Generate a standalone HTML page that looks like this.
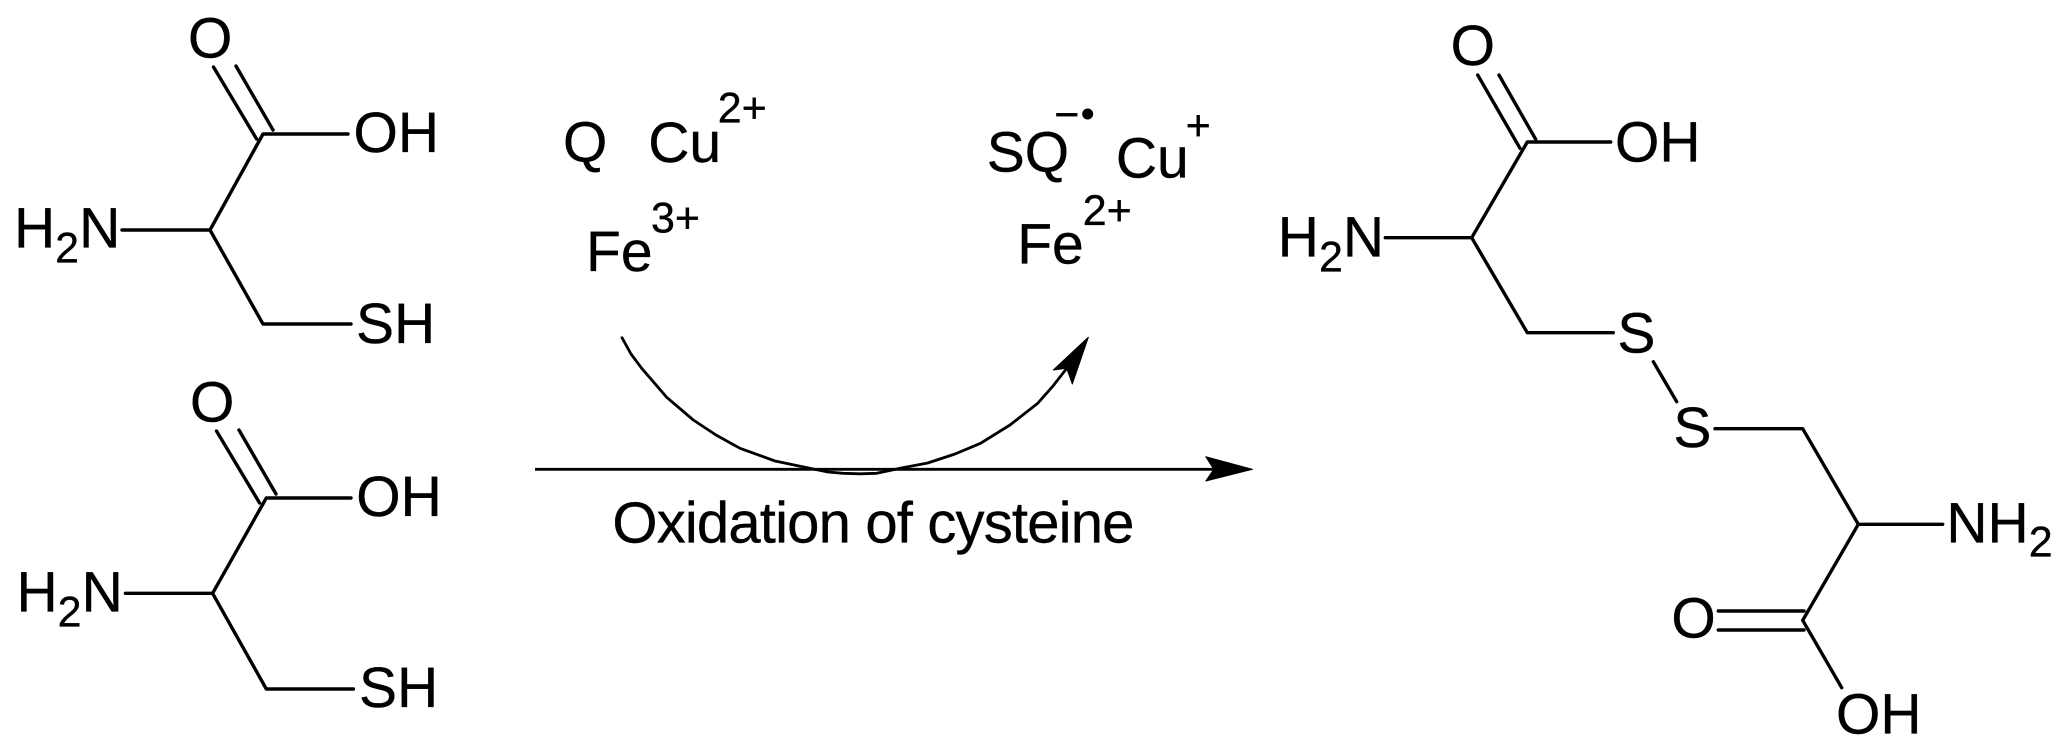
<!DOCTYPE html>
<html>
<head>
<meta charset="utf-8">
<style>
html,body{margin:0;padding:0;background:#fff;}
svg{display:block;}
text{font-family:"Liberation Sans",sans-serif;font-size:57px;fill:#000;stroke:#000;stroke-width:.35;text-rendering:geometricPrecision;}
.s{font-size:43px;}
.b{stroke:#000;stroke-width:3.4;fill:none;stroke-linecap:round;stroke-linejoin:round;}
</style>
</head>
<body>
<svg width="2067" height="752" viewBox="0 0 2067 752" xmlns="http://www.w3.org/2000/svg">
<rect width="2067" height="752" fill="#fff"/>

<!-- Molecule 1 -->
<g class="b">
<path d="M122 230H210L263 134H348"/>
<path d="M210 230L263 324H351"/>
<path d="M213.5 67L256.6 139"/>
<path d="M236 66L273 130"/>
</g>
<text x="188" y="57.5">O</text>
<text x="353.5" y="152">OH</text>
<text x="14" y="247.7">H<tspan class="s" dy="15">2</tspan><tspan dy="-15">N</tspan></text>
<text x="356" y="343">SH</text>

<!-- Molecule 2 -->
<g class="b">
<path d="M125.4 593.3H212.6L266.3 498H351"/>
<path d="M212.6 593.3L266.3 689H353.4"/>
<path d="M216.5 431L259.6 503"/>
<path d="M239 430L276 494"/>
</g>
<text x="190" y="421.5">O</text>
<text x="356.3" y="516">OH</text>
<text x="16.5" y="611.7">H<tspan class="s" dy="15">2</tspan><tspan dy="-15">N</tspan></text>
<text x="359" y="707">SH</text>

<!-- Reaction arrow -->
<path d="M535 469.3H1215" stroke="#000" stroke-width="2.8" fill="none"/>
<path d="M1252.5 469.3L1205.8 456.7L1213.8 469.3L1205.8 481Z" fill="#000" stroke="#000" stroke-width="1" stroke-linejoin="round"/>
<text x="612.4" y="542.7" style="font-size:58px" textLength="522" lengthAdjust="spacing">Oxidation of cysteine</text>

<!-- Curved arrow -->
<polyline points="622,337.7 631,354 641.7,368.3 666.7,397.3 693.3,420 716,435 740,448.3 775,461 813.3,469 828,472 843.3,473.3 860,473.8 876.7,473.3 900,468.3 927.7,463 955,454 980.5,443.3 1010,425 1037.7,403.3 1053,386 1067,368" fill="none" stroke="#000" stroke-width="2.8" stroke-linecap="round" stroke-linejoin="round"/>
<path d="M1088.3 337.3L1053.3 370L1066.7 368.3L1072.3 384Z" fill="#000" stroke="#000" stroke-width="1" stroke-linejoin="round"/>

<!-- Reagents left -->
<text x="563" y="161.7">Q</text>
<text x="648.2" y="162">Cu</text>
<text class="s" x="717.7" y="122.7">2+</text>
<text x="586" y="271">Fe</text>
<text class="s" x="651" y="232.7">3+</text>

<!-- Reagents right -->
<text x="986.7" y="171.7">SQ</text>
<text class="s" x="1054.3" y="129">−</text>
<circle cx="1087.7" cy="114" r="5.5" fill="#000"/>
<text x="1115.9" y="177.3">Cu</text>
<text class="s" x="1185.6" y="140">+</text>
<text x="1017.2" y="263.3">Fe</text>
<text class="s" x="1082.7" y="225">2+</text>

<!-- Product -->
<g class="b">
<path d="M1385.3 237.7H1471.7L1527.3 142H1610.7"/>
<path d="M1471.7 237.7L1527.3 332.7H1613.3"/>
<path d="M1477.7 75L1520 148.3"/>
<path d="M1499 75L1535.7 139.3"/>
<path d="M1653.3 361.7L1676.7 401.7"/>
<path d="M1715 428.7H1802.7L1858.3 524.3H1942.7"/>
<path d="M1858.3 524.3L1802.7 620.3L1841.7 687.7"/>
<path d="M1718.3 611H1804"/>
<path d="M1718.3 630H1804"/>
</g>
<text x="1450.6" y="65">O</text>
<text x="1615" y="161.7">OH</text>
<text x="1277.8" y="256.7">H<tspan class="s" dy="15">2</tspan><tspan dy="-15">N</tspan></text>
<text x="1617.4" y="352.7">S</text>
<text x="1673.4" y="447">S</text>
<text x="1946.4" y="542.7">NH<tspan class="s" dy="14">2</tspan></text>
<text x="1671.4" y="637.7">O</text>
<text x="1836" y="733.3">OH</text>
</svg>
</body>
</html>
